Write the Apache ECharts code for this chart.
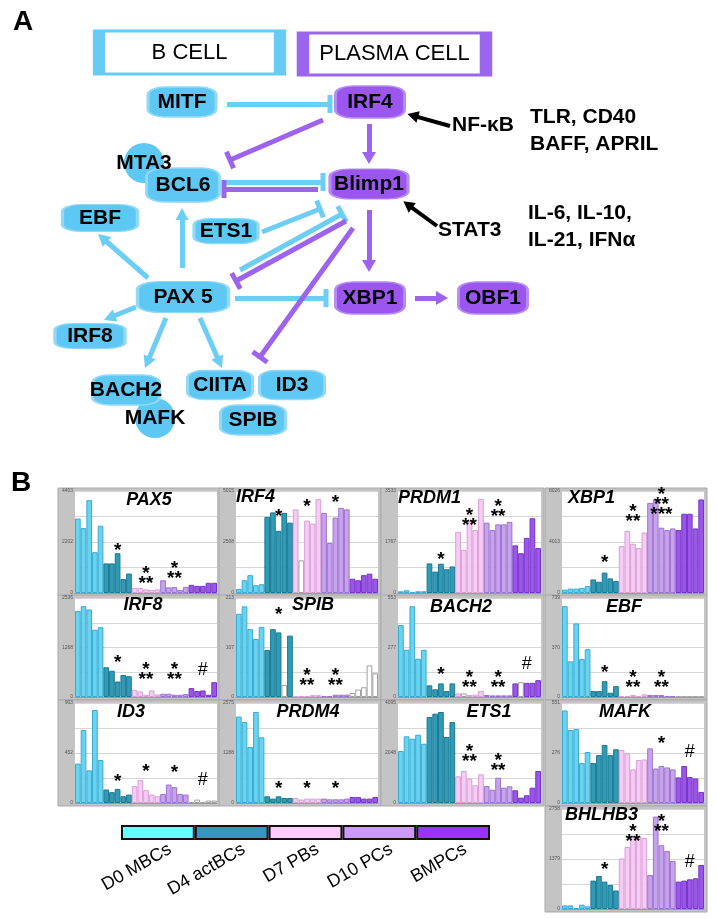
<!DOCTYPE html>
<html><head><meta charset="utf-8">
<script src="https://cdn.jsdelivr.net/npm/echarts@6/dist/echarts.min.js"></script>
<style>html,body{margin:0;padding:0;background:#fff}#c{width:717px;height:919px}</style>
</head><body><div id="c"></div>
<script>
// ================= DATA =================
// ---- Panel A: regulatory network ----
const nodeNames = ['MITF','IRF4','BCL6','Blimp1','EBF','ETS1','PAX 5','XBP1','OBF1','IRF8','BACH2','CIITA','ID3','SPIB'];
const nodeFate  = ['B','PC','B','PC','B','B','B','PC','PC','B','B','B','B','B'];
const cofactorNames = ['MTA3','MAFK'];
const compartmentNames = ['B CELL','PLASMA CELL'];
const signalTexts = ['NF-\u03baB','TLR, CD40','BAFF, APRIL','STAT3','IL-6, IL-10,','IL-21, IFN\u03b1'];

// ---- Panel B: expression profiles ----
const stages = ['D0 MBCs','D4 actBCs','D7 PBs','D10 PCs','BMPCs'];
const genes = ['PAX5','IRF4','PRDM1','XBP1','IRF8','SPIB','BACH2','EBF','ID3','PRDM4','ETS1','MAFK','BHLHB3'];
const axisMax = [4403,5015,3533,8026,2536,213,553,739,903,2575,4095,551,2758];

const PAX5   = [3214,2800,4007,1761,2900,1277,1277,1717,600,840,220,220,154,132,154,550,242,255,132,264,352,308,308,440,440];
const IRF4   = [201,627,878,381,431,3741,3962,3059,3937,3460,4112,1605,3561,3410,4614,3937,2457,3711,4188,4112,702,627,878,953,702];
const PRDM1  = [60,95,35,60,60,1025,742,1014,823,919,2120,1494,2473,2180,3261,2438,2180,2378,2378,2463,1650,1378,1908,2590,1555];
const XBP1   = [265,345,345,401,538,1067,883,1605,1148,939,3692,4896,3877,3531,4759,7087,7384,5137,4952,5080,4952,6236,6236,5080,7360];
const IRF8   = [2206,2326,2242,1724,1788,761,672,396,563,533,185,142,58,167,66,84,84,58,58,76,228,152,167,58,380];
const SPIB   = [179,195,146,125,151,101,146,139,26,132,1.5,1.5,2,4,4,2,2,5,5,5,8.5,16,21,68,51];
const BACH2  = [402,264,507,214,264,65,43,76,33,76,20,20,11,13,33,11,9,9,9,9,76,83,79,79,94];
const EBF    = [678,266,549,283,357,44,44,118,32,81,7,7,15,7,20,15,15,15,7,7,3,3,3,3,3];
const ID3    = [356,659,295,840,388,122,98,127,61,76,152,207,116,76,61,82,167,143,82,76,9,31,9,22,22];
const PRDM4  = [2227,2086,1442,2343,1692,173,113,173,129,129,129,88,113,113,113,113,95,95,95,113,155,155,113,113,155];
const ETS1   = [2129,2731,2633,2797,2428,3522,3657,3726,2703,3317,1093,1310,995,725,1175,696,545,1036,627,684,520,217,315,627,1310];
const MAFK   = [510,402,407,220,281,220,264,320,264,296,292,274,185,237,240,301,190,204,196,185,141,204,143,135,61];
const BHLHB3 = [99,99,28,119,72,783,910,756,662,510,1393,1710,2002,2002,1958,938,2548,1757,1600,1324,756,783,819,847,1214];

// significance marks: [sample index, value, text]
const sigPAX5   = [[7,2008,'*'],[12,770,'*\n**'],[17,1004,'*\n**']];
const sigIRF4   = [[7,3942,'*'],[12,4428,'*'],[17,4624,'*']];
const sigPRDM1  = [[7,1307,'*'],[12,2650,'*\n**'],[17,2968,'*\n**']];
const sigXBP1   = [[7,2729,'*'],[12,6300,'*\n**'],[17,7223,'*\n**\n***']];
const sigIRF8   = [[7,989,'*'],[12,672,'*\n**'],[17,672,'*\n**'],[22,685,'#']];
const sigSPIB   = [[7,185,'*'],[12,44,'*\n**'],[17,44,'*\n**']];
const sigBACH2  = [[7,144,'*'],[12,100,'*\n**'],[17,100,'*\n**'],[22,182,'#']];
const sigEBF    = [[7,214,'*'],[12,133,'*\n**'],[17,133,'*\n**']];
const sigID3    = [[7,228,'*'],[12,320,'*'],[17,310,'*'],[22,210,'#']];
const sigPRDM4  = [[7,463,'*'],[12,463,'*'],[17,463,'*']];
const sigETS1   = [[12,2048,'*\n**'],[17,1679,'*\n**']];
const sigMAFK   = [[17,347,'*'],[22,281,'#']];
const sigBHLHB3 = [[7,1186,'*'],[12,2096,'*\n**'],[17,2372,'*\n**'],[22,1296,'#']];

// ================= LAYOUT & STYLE =================
const FONT = 'Arial, "Liberation Sans", sans-serif';
// diagram coordinates (pixel-like units of panel A)
const nodePos  = [[182,102],[370,102],[183,185],[369,184],[100,218],[226,231],[183,297],[370,298],[493,298],[90,336],[126,390],[220,385],[292,385],[253,420]];
const nodeSize = [[68,30],[69,32],[73,34],[78,30],[75,27],[64,25],[91,31],[69,32],[69,32],[70,25],[67,30],[65,29],[65,29],[65,30]];
const cofactorPos = [[144,163],[155,418]];
const compartmentPos  = [[189.5,52.5],[394.5,54]];
const compartmentSize = [[181,43],[183,42]];
const signalPos = [[452,125],[530,117],[530,144],[438,230],[528,213],[528,240]];
const cyanInhibit   = [[[227,104],[330,104]],[[226,182],[323,182]],[[262,232],[320,209]],[[240,270],[342,214]],[[235,298],[326,298]]];
const purpleInhibit = [[[323,120],[230,160]],[[318,189],[224,189]],[[346,221],[236,281]],[[353,228],[260,357]]];
const cyanActivate  = [[[182,268],[182,214]],[[148,278],[102.5,238]],[[136,307],[109.5,317.7]],[[166,318],[147.3,362.5]],[[200,318],[219.6,362.5]]];
const purpleActivate= [[[369,124],[369,158]],[[369,210],[369,266]],[[415,298],[442,298]]];
const signalArrows  = [[[450,126],[412.8,115.6]],[[437,226],[407.8,204.6]]];

const CYAN_NODE='#5ec8f4', CYAN_EDGE='#92d9f6', PURPLE_NODE='#9a56ef', PURPLE_EDGE='#b68cf2';
const CYAN_LINE='#6ccdf5', PURPLE_LINE='#9d62ee';
const TBAR='path://M0,0H20V4H0Z';

const colPlot = [[75,217],[236,378],[398,541],[562,704]];
const rowPlot = [[491,593],[598,697],[703,803],[809,909]];
const chartRC = genes.map((g,i)=> i<12 ? [Math.floor(i/4), i%4] : [3,3]);
const titleLayout = [['center',149,491.5],['left',236,488.5],['left',398,489.5],['left',568,489.5],
  ['center',143,596.5],['center',313,596.5],['center',461,598.5],['center',624,598.5],
  ['center',131,703.5],['center',308,703.5],['center',489,703.5],['center',625,703.5],['left',565,806.5]];
const barFill = ['#66d4f2','#2f9bb7','#f8caf6','#c7a2ee','#9b55ea','#ffffff'];
const barEdge = ['#3fa9cc','#1d7790','#d7a0d4','#9c74cc','#7636c4','#a0a0a0'];
const whiteBars = {IRF4:[11], SPIB:[8,20,21,22,23,24], BACH2:[11,21], ID3:[20,21,22,23,24], EBF:[20,21,22,23,24]};
const legendColors = ['#66ffff','#3399bb','#ffccff','#cc99ff','#9933ff'];

const expr = {PAX5,IRF4,PRDM1,XBP1,IRF8,SPIB,BACH2,EBF,ID3,PRDM4,ETS1,MAFK,BHLHB3};
const sig = {PAX5:sigPAX5,IRF4:sigIRF4,PRDM1:sigPRDM1,XBP1:sigXBP1,IRF8:sigIRF8,SPIB:sigSPIB,BACH2:sigBACH2,EBF:sigEBF,ID3:sigID3,PRDM4:sigPRDM4,ETS1:sigETS1,MAFK:sigMAFK,BHLHB3:sigBHLHB3};
const sampleIds = stages.flatMap(s => [1,2,3,4,5].map(k => s + ' ' + k));

// ================= OPTION =================
const option = {animation:false, backgroundColor:'#fff', textStyle:{fontFamily:FONT},
  grid:[], xAxis:[], yAxis:[], series:[], graphic:[]};

const TXT = {color:'#000', opacity:1, fontFamily:FONT};

// panel A coordinate frame
option.grid.push({left:0, top:0, width:717, height:460, show:false});
option.xAxis.push({type:'value', gridIndex:0, min:0, max:717, show:false});
option.yAxis.push({type:'value', gridIndex:0, min:0, max:460, inverse:true, show:false});

option.series.push({type:'scatter', xAxisIndex:0, yAxisIndex:0, z:2, symbol:'rect', silent:true,
  itemStyle:{opacity:1},
  data: compartmentNames.map((t,i)=>({name:t, value:compartmentPos[i], symbolSize:compartmentSize[i],
    itemStyle:{color:'#fff', opacity:1, borderColor: i ? '#9a66ee' : '#66ccf5', borderWidth:6}})),
  label:Object.assign({show:true, position:'inside', formatter:'{b}', fontSize:22}, TXT)});

function edgeSeries(list, color, width, sym, size){
  return {type:'lines', coordinateSystem:'cartesian2d', xAxisIndex:0, yAxisIndex:0, z:3, silent:true,
    symbol:['none', sym], symbolSize:[0, size], lineStyle:{color, width, opacity:1, curveness:0},
    data: list.map(c=>({coords:c}))};
}
option.series.push(edgeSeries(cyanInhibit, CYAN_LINE, 5, TBAR, [18,5]));
option.series.push(edgeSeries(purpleInhibit, PURPLE_LINE, 5, TBAR, [18,5]));
option.series.push(edgeSeries(cyanActivate, CYAN_LINE, 5, 'triangle', [13,12]));
option.series.push(edgeSeries(purpleActivate, PURPLE_LINE, 5, 'triangle', [14,12]));
option.series.push(edgeSeries(signalArrows, '#000', 4, 'triangle', [12,11]));

option.series.push({type:'scatter', xAxisIndex:0, yAxisIndex:0, z:3, symbol:'circle', symbolSize:40, silent:true,
  data: cofactorNames.map((n,i)=>({name:n, value:cofactorPos[i]})), itemStyle:{color:CYAN_NODE, opacity:1}, label:{show:false}});
option.series.push({type:'scatter', xAxisIndex:0, yAxisIndex:0, z:4, symbol:'roundRect', silent:true,
  itemStyle:{opacity:1},
  data: nodeNames.map((n,i)=>({name:n, value:nodePos[i], symbolSize:nodeSize[i],
    itemStyle: nodeFate[i]==='B' ? {color:CYAN_NODE, opacity:1, borderColor:CYAN_EDGE, borderWidth:2} : {color:PURPLE_NODE, opacity:1, borderColor:PURPLE_EDGE, borderWidth:2}})),
  label:Object.assign({show:true, position:'inside', formatter:'{b}', fontSize:21, fontWeight:'bold'}, TXT)});
option.series.push({type:'scatter', xAxisIndex:0, yAxisIndex:0, z:6, symbolSize:0, silent:true, itemStyle:{opacity:1},
  data: cofactorNames.map((n,i)=>({name:n, value:cofactorPos[i]})),
  label:Object.assign({show:true, position:'inside', formatter:'{b}', fontSize:21, fontWeight:'bold'}, TXT)});
option.series.push({type:'scatter', xAxisIndex:0, yAxisIndex:0, z:6, symbolSize:0, silent:true, itemStyle:{opacity:1},
  data: signalTexts.map((n,i)=>({name:n, value:signalPos[i]})),
  label:Object.assign({show:true, position:'inside', align:'left', verticalAlign:'middle', formatter:'{b}', fontSize:21, fontWeight:'bold'}, TXT)});

option.graphic.push({type:'text', x:13, y:22, z:100, style:{text:'A', font:'bold 28px '+FONT, fill:'#000', verticalAlign:'middle'}});
option.graphic.push({type:'text', x:11, y:483, z:100, style:{text:'B', font:'bold 28px '+FONT, fill:'#000', verticalAlign:'middle'}});

// panel B charts
genes.forEach((g,i)=>{
  const [r,c] = chartRC[i];
  const x0=colPlot[c][0], x1=colPlot[c][1], y0=rowPlot[r][0], y1=rowPlot[r][1];
  const m = axisMax[i];
  option.graphic.push({type:'rect', z:-1, shape:{x:x0-17, y:y0-3, width:(x1-x0)+20, height:(y1-y0)+6},
    style:{fill:'#c4c4c4', stroke:'#a9a9a9', lineWidth:1}});
  const gi = option.grid.length;
  option.grid.push({left:x0, top:y0, width:x1-x0, height:y1-y0, show:true, backgroundColor:'#fff', borderWidth:0});
  const xc = option.xAxis.length;
  option.xAxis.push({type:'category', gridIndex:gi, data:sampleIds, axisLabel:{show:false}, axisTick:{show:false},
    axisLine:{show:true, lineStyle:{color:'#9a9a9a', width:1}}});
  option.xAxis.push({type:'value', gridIndex:gi, min:-0.5, max:24.5, show:false});
  const yi = option.yAxis.length;
  option.yAxis.push({type:'value', gridIndex:gi, min:0, max:m, interval:m/4,
    axisLine:{show:false}, axisTick:{show:false}, splitLine:{lineStyle:{color:'#d6d6d6', width:1}},
    axisLabel:{fontSize:5, color:'#555', margin:2, formatter:v=>{
      const tol = m*0.01;
      if (Math.abs(v)<tol) return '0';
      if (Math.abs(v-m/2)<tol) return String(Math.round(m/2));
      if (Math.abs(v-m)<tol) return String(m);
      return '';}}});
  const wb = whiteBars[g] || [];
  option.series.push({type:'bar', xAxisIndex:xc, yAxisIndex:yi, barCategoryGap:'0%', barGap:'0%', silent:true,
    data: expr[g].map((v,k)=>{ const s = wb.includes(k) ? 5 : Math.floor(k/5);
      return {value:v, itemStyle:{color:barFill[s], borderColor:barEdge[s], borderWidth:1}}; })});
  option.series.push({type:'scatter', xAxisIndex:xc+1, yAxisIndex:yi, symbolSize:0, clip:false, z:5, silent:true,
    itemStyle:{opacity:1},
    data: sig[g].map(a=>{ const hash = a[2]==='#';
      return {name:a[2], value:[a[0],a[1]], label: hash ? {fontSize:18, fontWeight:'normal', offset:[0,0], lineHeight:18} : {}}; }),
    label:Object.assign({show:true, position:'inside', formatter:'{b}', fontSize:19, fontWeight:'bold', lineHeight:10, offset:[0,4]}, TXT)});
  const tl = titleLayout[i];
  option.graphic.push({type:'text', z:100, x:tl[1], y:tl[2], style:{text:g, font:'italic bold 18px '+FONT, fill:'#000', align:tl[0], verticalAlign:'top'}});
});

// legend bar
const lg = option.grid.length;
option.grid.push({left:121, top:825, width:369, height:15, show:false});
const lx = option.xAxis.length;
option.xAxis.push({type:'category', gridIndex:lg, data:stages, show:false});
const ly = option.yAxis.length;
option.yAxis.push({type:'value', gridIndex:lg, min:0, max:1, show:false});
option.series.push({type:'bar', xAxisIndex:lx, yAxisIndex:ly, barCategoryGap:'0%', silent:true, z:3,
  data: stages.map((s,k)=>({value:1, itemStyle:{color:legendColors[k], borderColor:'#111', borderWidth:2}}))});
option.series.push({type:'scatter', xAxisIndex:lx, yAxisIndex:ly, symbolSize:0, clip:false, z:4, silent:true, itemStyle:{opacity:1},
  data: stages.map(s=>({name:s, value:[s,0]})),
  label:Object.assign({show:true, position:'inside', formatter:'{b}', rotate:30, align:'right', verticalAlign:'middle', offset:[6.5,13], fontSize:18}, TXT)});

const chart = echarts.init(document.getElementById('c'), null, {renderer:'canvas'});
chart.setOption(option);
</script>
</body></html>
